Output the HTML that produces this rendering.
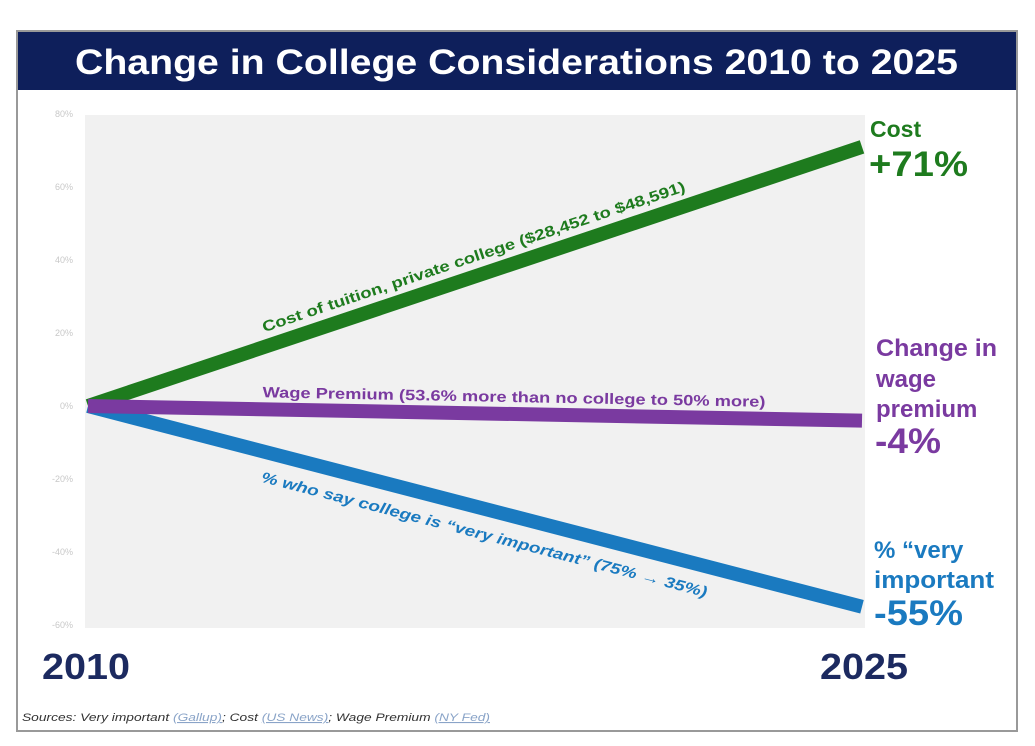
<!DOCTYPE html>
<html><head><meta charset="utf-8"><style>
body{margin:0;background:#fff;width:1035px;height:741px;overflow:hidden;font-family:"Liberation Sans",sans-serif}
svg text{font-family:"Liberation Sans",sans-serif}
</style></head><body>
<svg width="1035" height="741">
<rect x="17" y="31" width="1000" height="700" fill="#fff" stroke="#999" stroke-width="2"/>
<rect x="18" y="32" width="998" height="58" fill="#0e1f5b"/>
<text x="75" y="74" textLength="883" lengthAdjust="spacingAndGlyphs" fill="#fff" font-size="35" font-weight="bold">Change in College Considerations 2010 to 2025</text>
<rect x="85" y="115" width="780" height="513" fill="#f1f1f1"/>
<g id="yt"></g>
<g id="lines"></g>
<text x="42" y="679" textLength="88" lengthAdjust="spacingAndGlyphs" fill="#1c2a60" font-size="36" font-weight="bold">2010</text>
<text x="820" y="679" textLength="88" lengthAdjust="spacingAndGlyphs" fill="#1c2a60" font-size="36" font-weight="bold">2025</text>
<text x="22" y="721" textLength="468" lengthAdjust="spacingAndGlyphs" fill="#333" font-size="11" font-style="italic">Sources: Very important <tspan fill="#8aa4c8" text-decoration="underline">(Gallup)</tspan>; Cost <tspan fill="#8aa4c8" text-decoration="underline">(US News)</tspan>; Wage Premium <tspan fill="#8aa4c8" text-decoration="underline">(NY Fed)</tspan></text>
<g font-weight="bold">
<text x="870" y="137" fill="#1e7b1e" font-size="23">Cost</text>
<text x="869" y="176" textLength="99" lengthAdjust="spacingAndGlyphs" fill="#1e7b1e" font-size="35">+71%</text>
<text x="876" y="356" textLength="121" lengthAdjust="spacingAndGlyphs" fill="#7a3aa0" font-size="24">Change in</text>
<text x="876" y="387" fill="#7a3aa0" font-size="24">wage</text>
<text x="876" y="417" fill="#7a3aa0" font-size="24">premium</text>
<text x="875" y="453" textLength="66" lengthAdjust="spacingAndGlyphs" fill="#7a3aa0" font-size="35">-4%</text>
<text x="874" y="558" fill="#1a7ac0" font-size="24">% “very</text>
<text x="874" y="588" textLength="120" lengthAdjust="spacingAndGlyphs" fill="#1a7ac0" font-size="24">important</text>
<text x="874" y="625" textLength="89" lengthAdjust="spacingAndGlyphs" fill="#1a7ac0" font-size="35">-55%</text>
</g>
</svg>
<script>
const tickValues=[80,60,40,20,0,-20,-40,-60];
const seriesNames=["cost","wage","important"];
const endValues=[71,-4,-55];
const startValues=[0,0,0];
const colors=["#1e7b1e","#7a3aa0","#1a7ac0"];
const lineLabels=["Cost of tuition, private college ($28,452 to $48,591)","Wage Premium (53.6% more than no college to 50% more)","% who say college is \u201cvery important\u201d (75% \u2192 35%)"];
const NS="http://www.w3.org/2000/svg";
const y=v=>406-v*3.65;
const x0=88,x1=862;
const yt=document.getElementById('yt');
tickValues.forEach(v=>{const t=document.createElementNS(NS,'text');


t.setAttribute('x',73);t.setAttribute('y',y(v)+3);t.setAttribute('text-anchor','end');t.setAttribute('font-size','9');t.setAttribute('fill','#c8c8c8');t.textContent=v+'%';yt.appendChild(t);});
const lg=document.getElementById('lines');
[2,0,1].forEach(i=>{const l=document.createElementNS(NS,'line');


l.setAttribute('x1',x0);l.setAttribute('y1',y(startValues[i]));l.setAttribute('x2',x1);l.setAttribute('y2',y(endValues[i]));l.setAttribute('stroke',colors[i]);l.setAttribute('stroke-width','14');lg.appendChild(l);});
const fr=[0.506,0.55,0.52];
const offs=[-14,-12,30];
const lens=[445,503,460];
lineLabels.forEach((s,i)=>{const f=fr[i];const cx=x0+(x1-x0)*f;const cy=y(startValues[i]+(endValues[i]-startValues[i])*f);
const ang=Math.atan2(y(endValues[i])-y(startValues[i]),x1-x0)*180/Math.PI;
const t=document.createElementNS(NS,'text');


t.setAttribute('transform',`translate(${cx},${cy}) rotate(${ang}) translate(0,${offs[i]})`);
t.setAttribute('text-anchor','middle');t.setAttribute('font-size','15');t.setAttribute('font-weight','bold');
t.setAttribute('textLength',lens[i]);t.setAttribute('lengthAdjust','spacingAndGlyphs');
if(i==2)t.setAttribute('font-style','italic');t.setAttribute('fill',colors[i]);t.textContent=s;lg.appendChild(t);});
</script>
</body></html>
